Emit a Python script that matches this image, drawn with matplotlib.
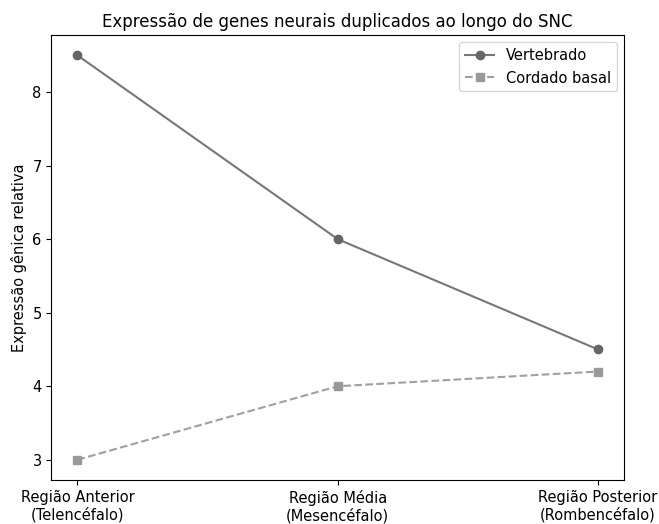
import matplotlib
matplotlib.use("Agg")
from matplotlib import pyplot as plt

regioes = ["Região Anterior\n(Telencéfalo)", "Região Média\n(Mesencéfalo)", "Região Posterior\n(Rombencéfalo)"]
vertebrado = [8.5, 6.0, 4.5]
cordado_basal = [3.0, 4.0, 4.2]

plt.rcParams["font.size"] = 10.5

fig, ax = plt.subplots(figsize=(6.59, 5.24), dpi=100)
fig.subplots_adjust(left=0.078, right=0.947, top=0.933, bottom=0.084)

x = range(len(regioes))
ax.plot(x, vertebrado, marker="o", linestyle="-", color="#777777",
        markerfacecolor="#666666", markeredgecolor="#666666", label="Vertebrado")
ax.plot(x, cordado_basal, marker="s", linestyle="--", color="#a0a0a0",
        markerfacecolor="#999999", markeredgecolor="#999999", label="Cordado basal")

ax.set_xticks(list(x))
ax.set_xticklabels(regioes)
ax.set_ylabel("Expressão gênica relativa")
ax.set_title("Expressão de genes neurais duplicados ao longo do SNC", fontsize=12)
ax.legend(loc="upper right")

fig.savefig("out.png", dpi=100)
